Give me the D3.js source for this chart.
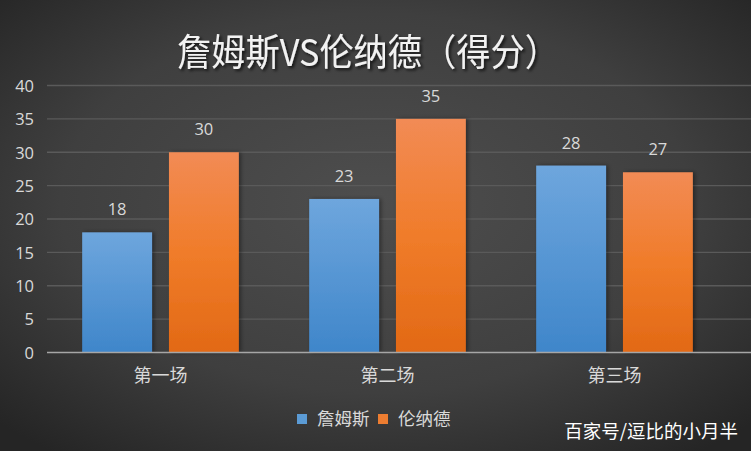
<!DOCTYPE html>
<html><head><meta charset="utf-8">
<script src="https://cdn.jsdelivr.net/npm/d3@7"></script>
<style>body{margin:0;background:#333;}svg{display:block;}</style>
</head><body>
<script>
const categories = ["第一场", "第二场", "第三场"];
const seriesNames = ["詹姆斯", "伦纳德"];
const james = [18, 23, 28];
const leonard = [30, 35, 27];
const yTicks = [0, 5, 10, 15, 20, 25, 30, 35, 40];
const title = "詹姆斯VS伦纳德（得分）";
const watermark = "百家号/逗比的小月半";

const W = 751, H = 451;
const font = "'Noto Sans CJK SC', 'Noto Sans', sans-serif";
const numFont = "'Open Sans', 'Noto Sans', sans-serif";
const svg = d3.select("body").append("svg").attr("width", W).attr("height", H);
const defs = svg.append("defs");
const bg = defs.append("radialGradient").attr("id", "bg").attr("cx", "50%").attr("cy", "45%").attr("r", "70%");
bg.append("stop").attr("offset", "0%").attr("stop-color", "#4e4e4e");
bg.append("stop").attr("offset", "60%").attr("stop-color", "#3f3f3f");
bg.append("stop").attr("offset", "100%").attr("stop-color", "#252525");
const gb = defs.append("linearGradient").attr("id", "gb").attr("x1", 0).attr("y1", 0).attr("x2", 0).attr("y2", 1);
gb.append("stop").attr("offset", "0%").attr("stop-color", "#6ea6dd");
gb.append("stop").attr("offset", "100%").attr("stop-color", "#3f86ca");
const go = defs.append("linearGradient").attr("id", "go").attr("x1", 0).attr("y1", 0).attr("x2", 0).attr("y2", 1);
go.append("stop").attr("offset", "0%").attr("stop-color", "#f28b55");
go.append("stop").attr("offset", "50%").attr("stop-color", "#f07c2a");
go.append("stop").attr("offset", "100%").attr("stop-color", "#e26915");
const sh = defs.append("filter").attr("id", "sh").attr("x", "-20%").attr("y", "-20%").attr("width", "140%").attr("height", "140%");
sh.append("feDropShadow").attr("dx", 2).attr("dy", 2).attr("stdDeviation", 1.5).attr("flood-color", "#000").attr("flood-opacity", 0.7);
const bsh = defs.append("filter").attr("id", "bsh").attr("x", "-20%").attr("y", "-20%").attr("width", "140%").attr("height", "140%");
bsh.append("feDropShadow").attr("dx", 2).attr("dy", 0).attr("stdDeviation", 2).attr("flood-color", "#000").attr("flood-opacity", 0.4);

svg.append("rect").attr("width", W).attr("height", H).attr("fill", "url(#bg)");

svg.append("text").attr("x", 368).attr("y", 66).attr("text-anchor", "middle")
  .attr("font-family", font).attr("font-size", 37).attr("font-weight", 400)
  .attr("textLength", 382).attr("lengthAdjust", "spacingAndGlyphs")
  .attr("fill", "#f2f2f2").attr("filter", "url(#sh)").text(title);

const left = 47, right = 728;
const y = d3.scaleLinear().domain([0, 40]).range([352.5, 85.5]);
const x0 = d3.scaleBand().domain(categories).range([left, right]).paddingInner(0.31).paddingOuter(0.155);
const x1 = d3.scaleBand().domain(seriesNames).range([0, x0.bandwidth()]).paddingInner(0.195);

// gridlines
svg.append("g").selectAll("line").data(yTicks.filter(d => d > 0)).join("line")
  .attr("x1", left).attr("x2", W).attr("y1", d => y(d)).attr("y2", d => y(d))
  .attr("stroke", "#5a5a5a").attr("stroke-width", 1.3);

// y axis labels
const yAxis = d3.axisLeft(y).tickValues(yTicks).tickSize(0).tickPadding(0);
const ya = svg.append("g").attr("transform", `translate(34,0)`).call(yAxis);
ya.select(".domain").remove();
ya.selectAll("text").attr("font-family", numFont).attr("font-size", 16.5).attr("fill", "#d9d9d9").attr("dy", "0.35em");

const data = categories.map((c, i) => ({c, vals: [{s: seriesNames[0], v: james[i]}, {s: seriesNames[1], v: leonard[i]}]}));
const groups = svg.append("g").selectAll("g").data(data).join("g")
  .attr("transform", d => `translate(${x0(d.c)},0)`);
groups.selectAll("rect").data(d => d.vals).join("rect")
  .attr("x", d => x1(d.s)).attr("width", x1.bandwidth())
  .attr("y", d => y(d.v)).attr("height", d => y(0) - y(d.v))
  .attr("fill", (d, i) => i === 0 ? "url(#gb)" : "url(#go)")
  .attr("filter", "url(#bsh)");
groups.selectAll("text").data(d => d.vals).join("text")
  .attr("x", d => x1(d.s) + x1.bandwidth() / 2).attr("y", d => y(d.v) - 17)
  .attr("text-anchor", "middle").attr("font-family", numFont).attr("font-size", 16.5)
  .attr("fill", "#d9d9d9").text(d => d.v);

// zero line
svg.append("line").attr("x1", left).attr("x2", W).attr("y1", y(0)).attr("y2", y(0))
  .attr("stroke", "#a6a6a6").attr("stroke-width", 1.5);

// x axis labels
const xAxis = d3.axisBottom(x0).tickSize(0).tickPadding(0);
const xa = svg.append("g").attr("transform", `translate(0,0)`).call(xAxis);
xa.select(".domain").remove();
xa.selectAll("text").attr("font-family", font).attr("font-size", 18).attr("fill", "#d9d9d9")
  .attr("y", 382).attr("dy", 0);

// legend
const colors = ["#5b9bd5", "#ed7d31"];
const legendItems = [{n: seriesNames[0], x: 297}, {n: seriesNames[1], x: 378}];
const lg = svg.append("g");
legendItems.forEach((it, i) => {
  lg.append("rect").attr("x", it.x).attr("y", 414).attr("width", 10).attr("height", 10).attr("fill", colors[i]);
  lg.append("text").attr("x", it.x + 20).attr("y", 425).attr("font-family", font).attr("font-size", 17.5)
    .attr("fill", "#d9d9d9").text(it.n);
});

svg.append("text").attr("x", 738).attr("y", 438).attr("text-anchor", "end")
  .attr("font-family", font).attr("font-size", 18.5).attr("fill", "#ffffff").text(watermark);
</script>
</body></html>
